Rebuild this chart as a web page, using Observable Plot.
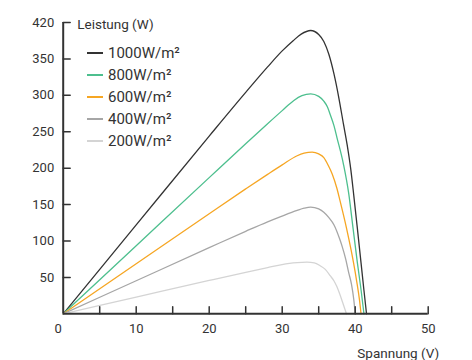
<!DOCTYPE html>
<html><head><meta charset="utf-8">
<script src="https://cdn.jsdelivr.net/npm/d3@7"></script>
<script src="https://cdn.jsdelivr.net/npm/@observablehq/plot@0.6"></script>
<style>
body{margin:0;background:#fff;font-family:Roboto,sans-serif;}
#wrap{position:relative;width:472px;height:360px;}
#legend{position:absolute;left:87px;top:42px;color:#333;font-size:15px;}
#legend .row{height:22.1px;display:flex;align-items:center;}
#legend .sw{width:16px;height:2px;margin-right:5px;}
</style></head><body><div id="wrap"></div>
<script>
const yLabel = "Leistung (W)";
const xLabel = "Spannung (V)";
const xOriginLabel = [0];
const xTickLabels = [10, 20, 30, 40, 50];
const xTickMarks = [5, 10, 15, 20, 25, 30, 35, 40, 45, 50];
const yTickValues = [50, 100, 150, 200, 250, 300, 350, 400];
const yTickLabels = ["50", "100", "150", "200", "250", "300", "350", "420"];

const seriesNames = ["1000W/m²", "800W/m²", "600W/m²", "400W/m²", "200W/m²"];
const seriesColors = ["#333333", "#4dbf8e", "#f6a623", "#a6a6a6", "#d4d4d4"];

const v1000 = [0, 10, 20, 25, 28, 30, 31.5, 32.6, 33.9, 35.0, 35.7, 36.4, 37.1, 37.75, 38.4, 38.9, 39.4, 39.8, 40.3, 40.8, 41.2, 41.55];
const p1000 = [0, 122, 244, 304, 339, 361, 375, 384, 389, 383.5, 374, 356, 329, 297, 260, 232, 198, 163, 117, 70, 32, 0];
const v800 = [0, 10, 20, 25, 28, 30, 31.6, 32.7, 33.9, 35.0, 35.7, 36.2, 36.6, 37.1, 37.5, 38.4, 39.1, 39.7, 40.3, 40.8, 41.2];
const p800 = [0, 93.5, 187, 233.5, 261, 279, 293, 299.5, 302, 298.5, 292, 284, 273, 258, 242, 205, 166, 118, 70, 33, 0];
const v600 = [0, 10, 20, 25, 28, 30, 32.05, 33.0, 34.1, 35.0, 35.7, 36.3, 36.85, 37.5, 37.9, 38.8, 39.45, 39.8, 40.2, 40.6, 40.8];
const p600 = [0, 68.8, 137.5, 171.5, 191.5, 204.5, 217, 220.5, 222, 219.5, 214.5, 204, 192, 172, 156, 118, 87, 68.5, 45, 18, 0];
const v400 = [0, 10, 20, 25, 28, 29.8, 32.05, 33.0, 33.9, 35.0, 35.7, 36.4, 37.1, 37.9, 38.2, 38.7, 39.1, 39.5, 39.8, 40.0];
const p400 = [0, 45.4, 90.8, 113.3, 126.3, 133.5, 142, 145, 146.5, 144, 139.5, 132, 122, 102, 93, 75, 57, 40, 20, 0];
const v200 = [0, 10, 20, 25, 28, 29.8, 31, 32.05, 33.4, 34.4, 35.2, 35.9, 36.6, 37.1, 37.5, 38.2, 38.8];
const p200 = [0, 22.9, 45.8, 57, 63.5, 67.3, 69.3, 70.4, 71, 70, 66, 61, 52, 45, 37, 18, 0];

const vs = [v1000, v800, v600, v400, v200];
const ps = [p1000, p800, p600, p400, p200];
const rows = [];
seriesNames.forEach((s, k) => vs[k].forEach((v, i) => rows.push({s, v, p: ps[k][i]})));

const tickShape = {draw(ctx, l) { ctx.moveTo(0, 0); ctx.lineTo(0, -l); }};
const ink = "#333333";

const chart = Plot.plot({
  width: 472, height: 360,
  marginLeft: 62.7, marginRight: 44.3, marginTop: 22, marginBottom: 46.7,
  x: {domain: [0, 50]},
  y: {domain: [0, 400]},
  color: {domain: seriesNames, range: seriesColors},
  style: {fontFamily: "Roboto, sans-serif", fontSize: "13px", color: ink, background: "#fff"},
  marks: [
    Plot.line(rows, {x: "v", y: "p", z: "s", stroke: "s", strokeWidth: 1.3, curve: "monotone-x"}),
    Plot.ruleX([0], {stroke: ink, strokeWidth: 2}),
    Plot.ruleY([0], {stroke: ink, strokeWidth: 2}),
    Plot.vector(xTickMarks, {x: d => d, y: 0, length: 7, rotate: 0, anchor: "start", shape: tickShape, stroke: ink, strokeWidth: 1.5}),
    Plot.vector(yTickValues, {x: 0, y: d => d, length: 7, rotate: 90, anchor: "start", shape: tickShape, stroke: ink, strokeWidth: 1.5}),
    Plot.axisX({ticks: xTickLabels, tickSize: 0, tickPadding: 10, label: null, tickFormat: d => String(d)}),
    Plot.axisX({ticks: xOriginLabel, tickSize: 0, tickPadding: 10, dx: -5, label: null, tickFormat: d => String(d)}),
    Plot.axisY({ticks: yTickValues, tickSize: 0, tickPadding: 9, label: null, tickFormat: d => yTickLabels[yTickValues.indexOf(d)]}),
    Plot.text([yLabel], {frameAnchor: "top-left", text: d => d, dx: 14, dy: 2, textAnchor: "start", lineAnchor: "middle", fontSize: 13.5, fill: ink}),
    Plot.text([xLabel], {frameAnchor: "bottom-right", text: d => d, dx: 11, dy: 39.4, textAnchor: "end", lineAnchor: "middle", fontSize: 13.5, fill: ink})
  ]
});

const wrap = document.getElementById("wrap");
wrap.appendChild(chart);
const legend = document.createElement("div");
legend.id = "legend";
seriesNames.forEach((s, k) => {
  const row = document.createElement("div");
  row.className = "row";
  const sw = document.createElement("span");
  sw.className = "sw";
  sw.style.background = seriesColors[k];
  const t = document.createElement("span");
  t.textContent = s;
  row.appendChild(sw); row.appendChild(t);
  legend.appendChild(row);
});
wrap.appendChild(legend);
</script>
</body></html>
